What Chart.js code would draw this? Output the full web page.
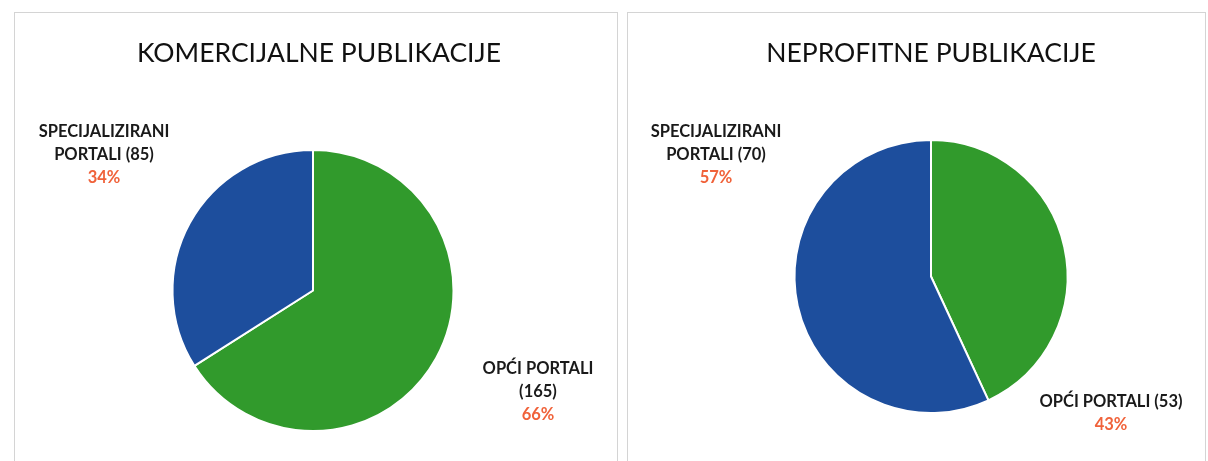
<!DOCTYPE html>
<html>
<head>
    <title>Publikacije po vrsti portala</title>
    <script src="https://cdn.jsdelivr.net/npm/chart.js"></script>
    <style>
        body { margin: 0; background: #fff; width: 1208px; height: 461px; overflow: hidden; position: relative; }
        .panel { position: absolute; top: 12px; border: 1px solid #d4d4d4; border-bottom: none; box-sizing: border-box; }
        #p1 { left: 14px; width: 604px; height: 449px; }
        #p2 { left: 627px; width: 579px; height: 449px; }
        canvas { display: block; }
    </style>
</head>
<body>
    <div class="panel" id="p1"><canvas id="komercijalneChart" width="602" height="448"></canvas></div>
    <div class="panel" id="p2"><canvas id="neprofitneChart" width="577" height="448"></canvas></div>
    <script>
        // order: green first (starts at 12 o'clock), then blue
        const categories = ['OPĆI PORTALI', 'SPECIJALIZIRANI PORTALI'];
        const komercijalneValues = [165, 85];
        const neprofitneValues = [53, 70];
        const titles = ['KOMERCIJALNE PUBLIKACIJE', 'NEPROFITNE PUBLIKACIJE'];

        const colors = ['#319a2c', '#1d4e9d'];
        const pctColor = '#f0623a';
        const font = 'Lato, "Open Sans", sans-serif';

        // draws the title and the outside labels, anchored on the pie centre
        const labelPlugin = {
            id: 'pieLabels',
            afterDraw(chart, args, opts) {
                const ctx = chart.ctx;
                const arc = chart.getDatasetMeta(0).data[0];
                const cx = arc.x, cy = arc.y;
                const values = chart.data.datasets[0].data;
                const total = values.reduce((a, b) => a + b, 0);

                ctx.save();
                ctx.textAlign = 'center';
                ctx.textBaseline = 'middle';
                ctx.fillStyle = '#111';
                ctx.font = '400 26.5px ' + font;
                ctx.fillText(opts.title, opts.titleX, opts.titleY);

                values.forEach((v, i) => {
                    const lines = opts.lines[i];
                    const x = cx + opts.offsets[i][0];
                    let y = cy + opts.offsets[i][1];
                    ctx.font = '700 16.5px ' + font;
                    ctx.fillStyle = '#1a1a1a';
                    lines.forEach(line => {
                        ctx.fillText(line, x, y);
                        y += 23;
                    });
                    ctx.fillStyle = pctColor;
                    ctx.fillText(Math.round(v / total * 100) + '%', x, y);
                });
                ctx.restore();
            }
        };

        function createPie(elementId, values, opts, padding) {
            const ctx = document.getElementById(elementId).getContext('2d');
            return new Chart(ctx, {
                type: 'pie',
                data: {
                    labels: categories,
                    datasets: [{
                        data: values,
                        backgroundColor: colors,
                        borderColor: '#ffffff',
                        borderWidth: 2
                    }]
                },
                options: {
                    responsive: false,
                    animation: false,
                    layout: { padding: padding },
                    plugins: {
                        legend: { display: false },
                        tooltip: { enabled: false },
                        pieLabels: opts
                    }
                },
                plugins: [labelPlugin]
            });
        }

        createPie('komercijalneChart', komercijalneValues, {
            title: titles[0], titleX: 304, titleY: 40,
            lines: [['OPĆI PORTALI', '(165)'], ['SPECIJALIZIRANI', 'PORTALI (85)']],
            offsets: [[225, 78], [-209, -159]]
        }, { top: 136, bottom: 29, left: 0, right: 6 });

        createPie('neprofitneChart', neprofitneValues, {
            title: titles[1], titleX: 303, titleY: 40,
            lines: [['OPĆI PORTALI (53)'], ['SPECIJALIZIRANI', 'PORTALI (70)']],
            offsets: [[180, 125], [-215, -145]]
        }, { top: 126, bottom: 47, left: 29, right: 0 });
    </script>
</body>
</html>
